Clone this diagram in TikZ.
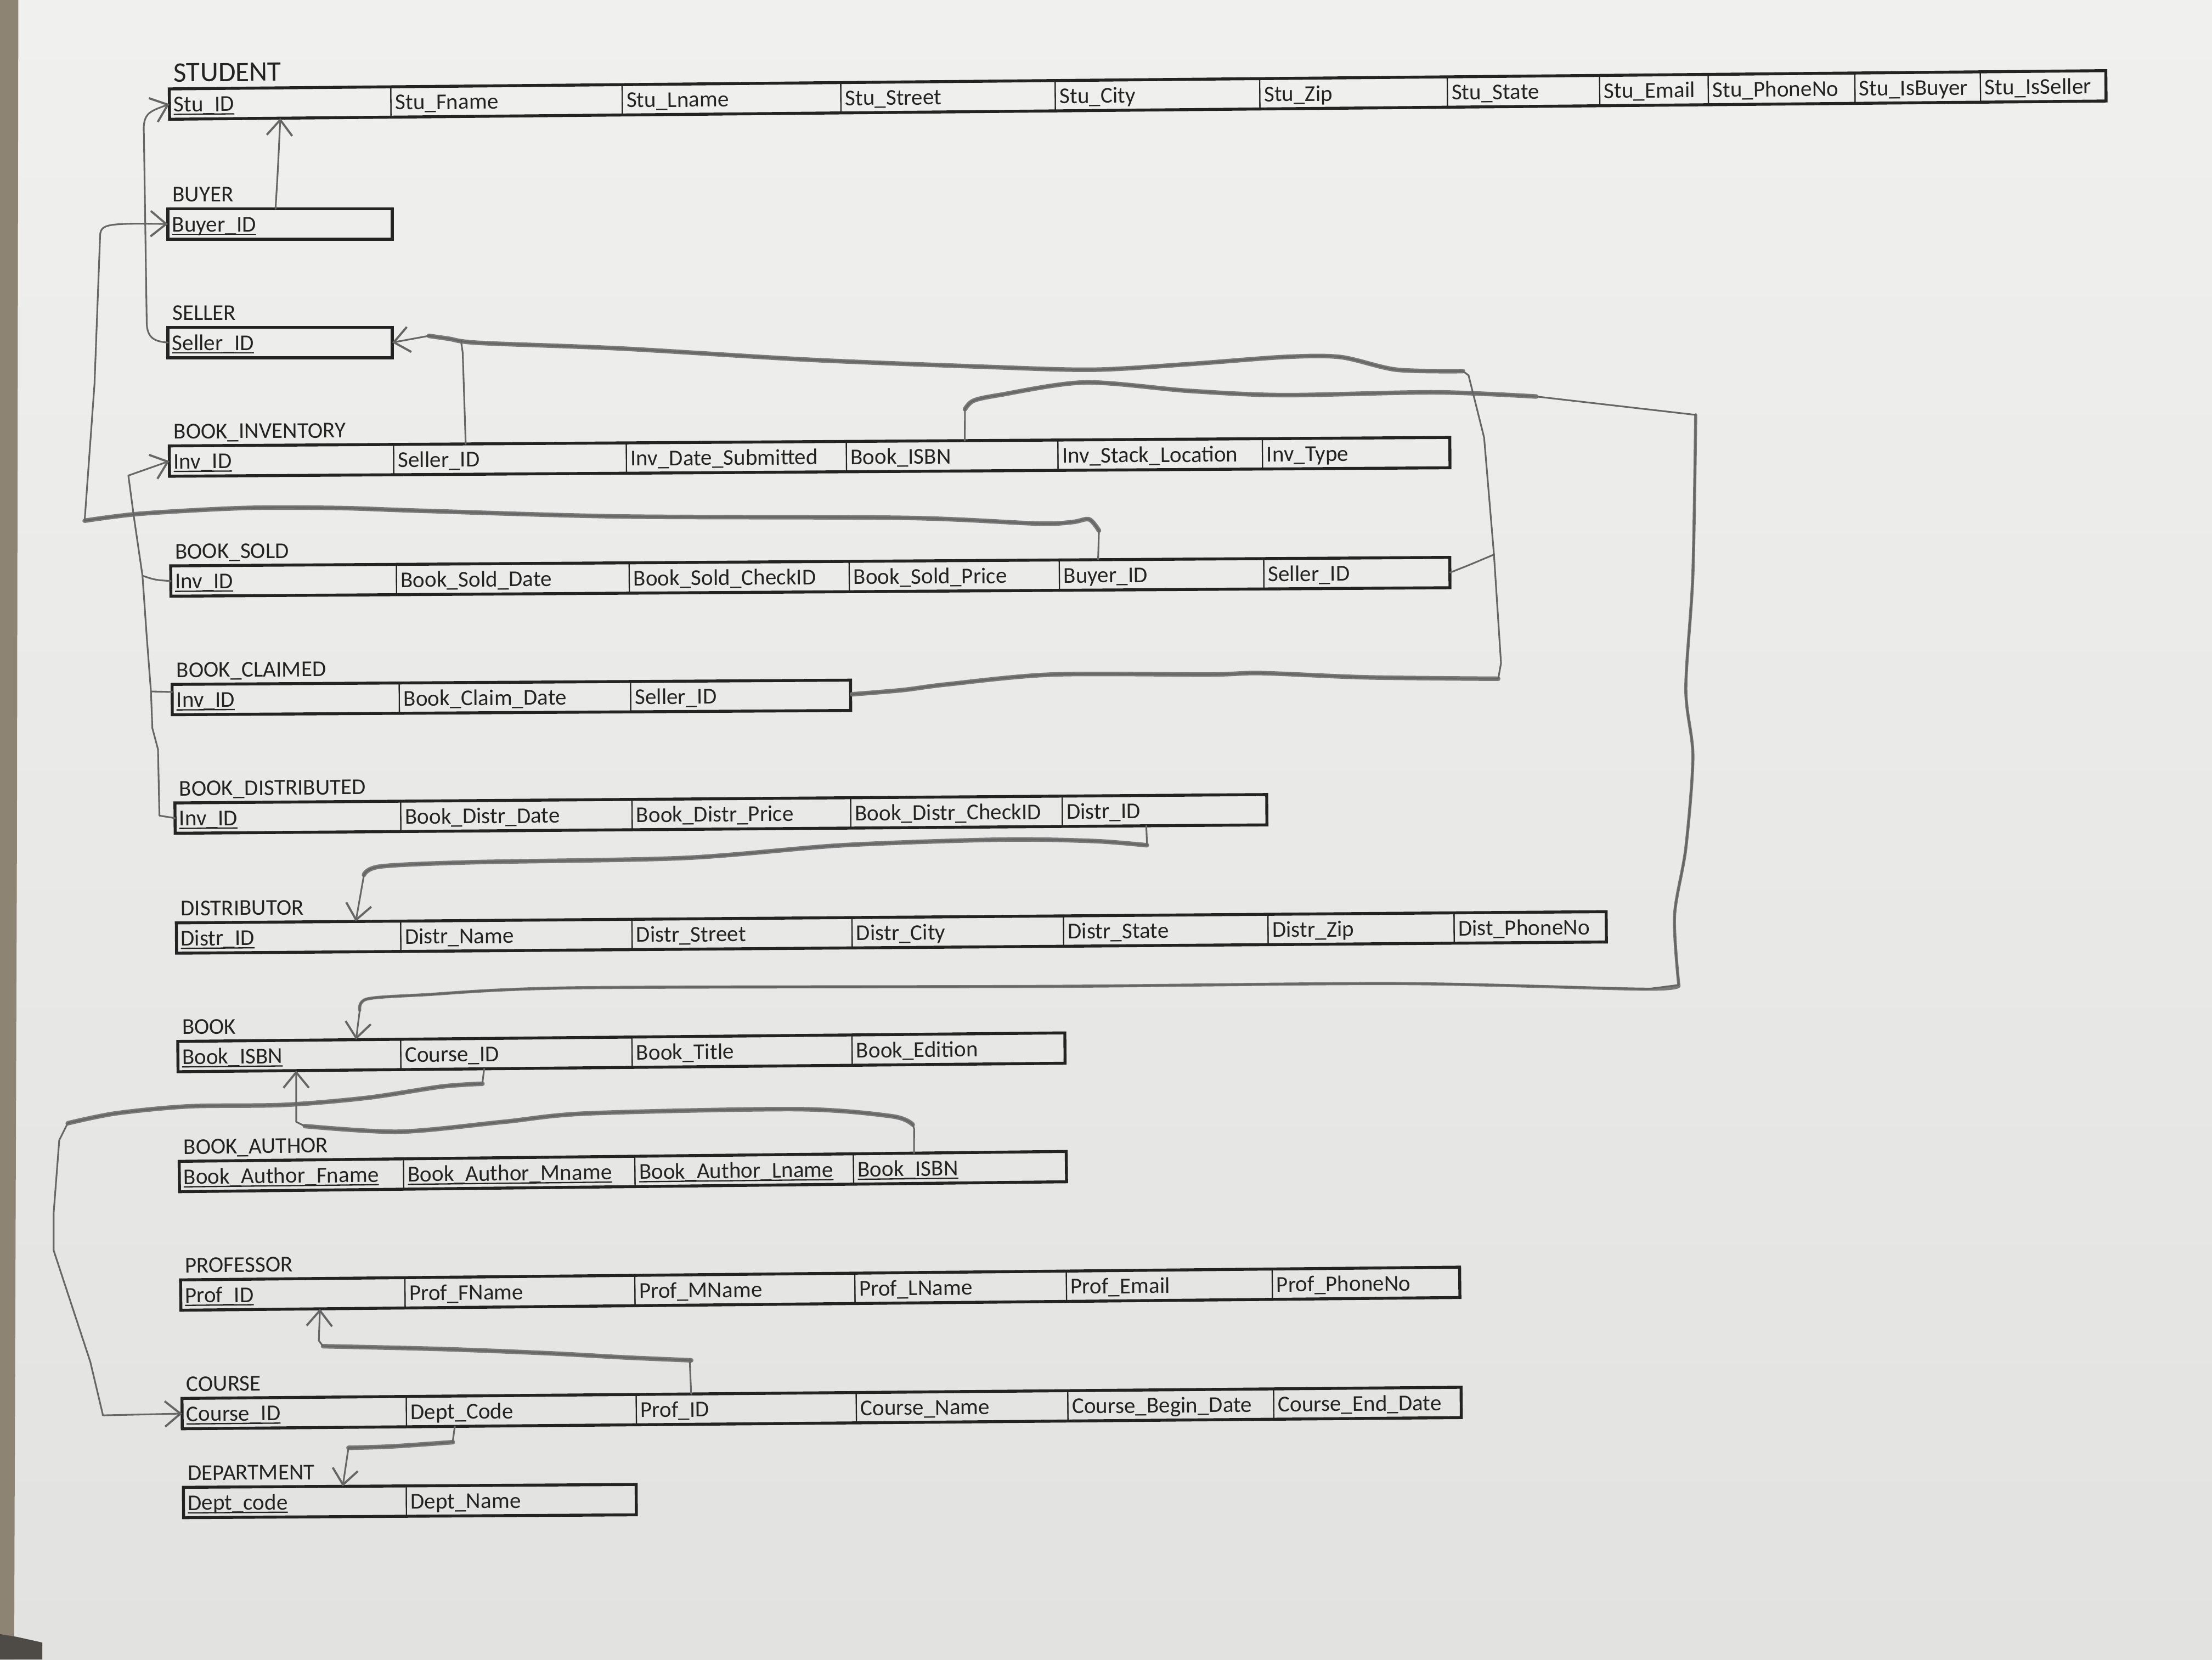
\documentclass[tikz,border=0pt]{standalone}
\usepackage{fontspec}
\setmainfont{Carlito}
\usetikzlibrary{calc,arrows.meta}
\definecolor{papertop}{HTML}{F0F0EE}
\definecolor{paperbot}{HTML}{E2E2E0}
\definecolor{ink}{HTML}{232323}
\definecolor{pencil}{HTML}{666666}
\definecolor{pencilhv}{HTML}{7A7A7A}
\definecolor{edge}{HTML}{8E8474}
\definecolor{edgedark}{HTML}{4E4A45}
\newcommand\pk[1]{\setbox0\hbox{#1}\rlap{\rule[-2.3pt]{\wd0}{0.9pt}}\box0}
\tikzset{
  tcell/.style={draw=ink, line width=0.8pt, anchor=north west, inner xsep=3pt, inner ysep=0pt, outer sep=0pt,
    minimum height=21.5pt, text height=11pt, text depth=0pt, align=left,
    font=\fontsize{16}{18}\selectfont, text=ink},
  tbord/.style={draw=ink, line width=2.1pt, line join=miter},
  tlabel/.style={anchor=base west, inner sep=0pt, font=\fontsize{16}{18}\selectfont, text=ink},
  fk/.style={draw=pencil, line width=1.2pt, line join=round, line cap=round},
  hvy/.style={draw=pencilhv, line width=3.2pt, line join=round, line cap=round},
  mid/.style={draw=pencilhv, line width=2.2pt, line join=round, line cap=round},
  fkarrow/.style={-{Straight Barb[length=11pt,width=18pt,line width=1.5pt]}}
}
% #1 prefix, #2 label, #3 x, #4 y, #5 angle, #6 number of cells, #7 list width/text
\newcommand\tbl[7]{%
  \begin{scope}[shift={(#3,#4)}, rotate=#5, transform shape]
    \coordinate (#1-0) at (0,0);
    \node[tlabel] (#1-L) at (3,-5) {#2};
    \foreach \w/\txt [count=\i, evaluate=\i as \j using int(\i-1)] in {#7}{%
      \node[tcell, text width=\w pt] (#1-\i) at (#1-\j.north east) {\txt};
    }
    \draw[tbord] (#1-1.north west) -- (#1-#6.north east) -- (#1-#6.south east) -- (#1-1.south west) -- cycle;
  \end{scope}}
\begin{document}
\begin{tikzpicture}[x=1pt,y=-1pt]
\useasboundingbox (0,0) rectangle (1568,1176);
\fill[top color=papertop, bottom color=paperbot] (0,0) rectangle (1568,1176);
\fill[edge] (0,0) -- (13,0) -- (12,600) -- (10,1176) -- (0,1176) -- cycle;
\fill[edgedark] (0,1158) -- (12,1160) -- (30,1164) -- (30,1176) -- (0,1176) -- cycle;

% ---------------- tables ----------------
\tbl{stu}{{\fontsize{20}{22}\selectfont STUDENT}}{120}{63}{0.54}{11}{151/{\pk{Stu\_ID}}, 158/{Stu\_Fname}, 149/{Stu\_Lname}, 146/{Stu\_Street}, 139/{Stu\_City}, 127/{Stu\_Zip}, 102/{Stu\_State}, 71/{Stu\_Email}, 98/{Stu\_PhoneNo}, 83/{Stu\_IsBuyer}, 83/{Stu\_IsSeller}}
\tbl{buy}{BUYER}{119}{148}{0}{1}{153/{\pk{Buyer\_ID}}}
\tbl{sel}{SELLER}{119}{232}{0}{1}{153/{\pk{Seller\_ID}}}
\tbl{bi}{BOOK\_INVENTORY}{120}{316}{0.38}{6}{153/{\pk{Inv\_ID}}, 159/{Seller\_ID}, 150/{Inv\_Date\_Submitted}, 144/{Book\_ISBN}, 139/{Inv\_Stack\_Location}, 127/{Inv\_Type}}
\tbl{bs}{BOOK\_SOLD}{121}{401}{0.38}{6}{154/{\pk{Inv\_ID}}, 159/{Book\_Sold\_Date}, 150/{Book\_Sold\_CheckID}, 143/{Book\_Sold\_Price}, 139/{Buyer\_ID}, 126/{Seller\_ID}}
\tbl{bc}{BOOK\_CLAIMED}{122}{485}{0.36}{3}{155/{\pk{Inv\_ID}}, 158/{Book\_Claim\_Date}, 150/{Seller\_ID}}
\tbl{bd}{BOOK\_DISTRIBUTED}{124}{569}{0.44}{5}{154/{\pk{Inv\_ID}}, 158/{Book\_Distr\_Date}, 149/{Book\_Distr\_Price}, 144/{Book\_Distr\_CheckID}, 139/{Distr\_ID}}
\tbl{ds}{DISTRIBUTOR}{125}{654}{0.45}{7}{153/{\pk{Distr\_ID}}, 158/{Distr\_Name}, 150/{Distr\_Street}, 144/{Distr\_City}, 139/{Distr\_State}, 126/{Distr\_Zip}, 102/{Dist\_PhoneNo}}
\tbl{bk}{BOOK}{126}{738}{0.55}{4}{152/{\pk{Book\_ISBN}}, 158/{Course\_ID}, 150/{Book\_Title}, 145/{Book\_Edition}}
\tbl{ba}{BOOK\_AUTHOR}{127}{823}{0.64}{4}{153/{\pk{Book\_Author\_Fname}}, 158/{\pk{Book\_Author\_Mname}}, 149/{\pk{Book\_Author\_Lname}}, 145/{\pk{Book\_ISBN}}}
\tbl{pf}{PROFESSOR}{128}{907}{0.57}{6}{153/{\pk{Prof\_ID}}, 157/{Prof\_FName}, 150/{Prof\_MName}, 144/{Prof\_LName}, 140/{Prof\_Email}, 127/{Prof\_PhoneNo}}
\tbl{cc}{COURSE}{129}{991}{0.5}{6}{153/{\pk{Course\_ID}}, 157/{Dept\_Code}, 150/{Prof\_ID}, 144/{Course\_Name}, 140/{Course\_Begin\_Date}, 127/{Course\_End\_Date}}
\tbl{dp}{DEPARTMENT}{130}{1054}{0.36}{2}{152/{\pk{Dept\_code}}, 157/{Dept\_Name}}

% ---------------- connector end points ----------------
\coordinate (c1s) at ($(buy-1.north west)!0.48!(buy-1.north east)$);
\coordinate (c1e) at ($(stu-1.south west)!0.5!(stu-1.south east)$);
\coordinate (c3s) at ($(bs-5.north west)!0.19!(bs-5.north east)$);
\coordinate (c4b) at ($(bi-2.north west)!0.31!(bi-2.north east)$);
\coordinate (sj1) at (1059,393);
\coordinate (sj4) at (327,243);
\coordinate (c5s) at ($(bi-4.north west)!0.56!(bi-4.north east)$);
\coordinate (c5e) at ($(bk-1.north west)!0.8!(bk-1.north east)$);
\coordinate (c6s) at ($(bd-5.south west)!0.41!(bd-5.south east)$);
\coordinate (c6e) at ($(ds-1.north west)!0.8!(ds-1.north east)$);
\coordinate (ij1) at (101,408);
\coordinate (ij2) at (107,490);
\coordinate (c7c) at ($(bc-1.north west)!0.25!(bc-1.south west)$);
\coordinate (c8s) at ($(bk-2.south west)!0.36!(bk-2.south east)$);
\coordinate (c9s) at ($(ba-4.north west)!0.285!(ba-4.north east)$);
\coordinate (c9e) at ($(bk-1.south west)!0.53!(bk-1.south east)$);
\coordinate (c10s) at ($(cc-3.north west)!0.25!(cc-3.north east)$);
\coordinate (c10e) at ($(pf-1.south west)!0.62!(pf-1.south east)$);
\coordinate (c11s) at ($(cc-2.south west)!0.21!(cc-2.south east)$);
\coordinate (c11e) at ($(dp-1.north west)!0.715!(dp-1.north east)$);

% ---------------- heavy pencil strokes ----------------
\draw[hvy] plot[smooth, tension=0.5] coordinates {(779,376) (772,368) (760,370) (735,371) (642,367) (441,366) (300,362) (240,360) (173,360) (100,364) (60,369)};
\draw[hvy] plot[smooth, tension=0.5] coordinates {(604,492) (640,489) (671,485) (746,478) (857,478) (894,477) (969,480) (1062,481)};
\draw[hvy] plot[smooth, tension=0.5] coordinates {(1037,263) (990,262) (950,253) (910,253) (843,258) (775,262) (700,260) (575,255) (441,247) (340,243) (318,240) (304,238)};
\draw[hvy] plot[smooth, tension=0.5] coordinates {(684,290) (690,284) (708,280) (769,271) (843,277) (910,280) (1017,278) (1089,281)};
\draw[mid] plot[smooth, tension=0.5] coordinates {(1202,294) (1200,407) (1195,488) (1200,536) (1195,601) (1187,649) (1190,698)};
\draw[mid] plot[smooth, tension=0.5] coordinates {(1190,698) (1167,701) (992,697) (744,699) (409,700) (300,705) (260,708) (255,716)};
\draw[hvy] plot[smooth, tension=0.5] coordinates {(813,599) (775,596) (709,595) (597,599) (485,608) (336,611) (270,614) (258,620)};
\draw[hvy] plot[smooth, tension=0.5] coordinates {(342,768) (313,770) (260,778) (201,783) (134,784) (82,789) (48,796)};
\draw[hvy] plot[smooth, tension=0.5] coordinates {(647,797) (632,791) (565,786) (417,789) (357,795) (283,802) (216,798)};
\draw[hvy] plot[smooth, tension=0.5] coordinates {(490,964) (444,962) (389,959) (313,956) (229,954)};
\draw[hvy] plot[smooth, tension=0.5] coordinates {(321,1022) (278,1025) (247,1026)};

% ---------------- connectors ----------------
% BUYER.Buyer_ID -> STUDENT.Stu_ID
\draw[fk,fkarrow] (c1s) .. controls (197,120) .. (c1e);
% SELLER.Seller_ID -> STUDENT.Stu_ID
\draw[fk,fkarrow] (sel-1.west) .. controls (110,242) and (104,240) .. (104,228) -- (102,95) .. controls (101,80) and (106,79) .. (stu-1.west);
% BOOK_SOLD.Buyer_ID -> BUYER.Buyer_ID
\draw[fk,fkarrow] (c3s) -- plot[smooth, tension=0.5] coordinates {(779,376) (772,368) (760,370) (735,371) (642,367) (441,366) (300,362) (240,360) (173,360) (100,364) (60,369)} -- (67,272) -- (71,166) .. controls (72,159) and (76,158) .. (buy-1.west);
% BOOK_CLAIMED.Seller_ID -> SELLER.Seller_ID (shared trunk)
\draw[fk,fkarrow] (bc-3.east) -- plot[smooth, tension=0.5] coordinates {(604,492) (640,489) (671,485) (746,478) (857,478) (894,477) (969,480) (1062,481)} -- (1064,470) -- (sj1) -- (1052,310) -- (1041,266) -- plot[smooth, tension=0.5] coordinates {(1037,263) (990,262) (950,253) (910,253) (843,258) (775,262) (700,260) (575,255) (441,247) (340,243) (318,240) (304,238)} -- (sel-1.east);
% BOOK_SOLD.Seller_ID joins
\draw[fk] (bs-6.east) .. controls (1040,401) .. (sj1);
% BOOK_INVENTORY.Seller_ID joins
\draw[fk] (c4b) -- (328,250) -- (sj4);
% BOOK_INVENTORY.Book_ISBN -> BOOK.Book_ISBN
\draw[fk,fkarrow] (c5s) -- (684,292) -- plot[smooth, tension=0.5] coordinates {(684,290) (690,284) (708,280) (769,271) (843,277) (910,280) (1017,278) (1089,281)} -- (1202,294) -- plot[smooth, tension=0.5] coordinates {(1202,294) (1200,407) (1195,488) (1200,536) (1195,601) (1187,649) (1190,698)} -- plot[smooth, tension=0.5] coordinates {(1167,701) (992,697) (744,699) (409,700) (300,705) (260,708) (255,716)} -- (c5e);
% BOOK_DISTRIBUTED.Distr_ID -> DISTRIBUTOR.Distr_ID
\draw[fk,fkarrow] (c6s) -- (813,597) -- plot[smooth, tension=0.5] coordinates {(813,599) (775,596) (709,595) (597,599) (485,608) (336,611) (270,614) (258,620)} -- (c6e);
% Inv_ID references -> BOOK_INVENTORY.Inv_ID
\draw[fk,fkarrow] (bd-1.west) -- (113,578) -- (112,531) -- (108,516) -- (ij2) -- (104,451) -- (ij1) -- (95,367) -- (91,337) -- (bi-1.west);
\draw[fk] (bs-1.west) .. controls (110,411) .. (ij1);
\draw[fk] (c7c) -- (ij2);
% BOOK.Course_ID -> COURSE.Course_ID
\draw[fk,fkarrow] (c8s) -- (342,767) -- plot[smooth, tension=0.5] coordinates {(342,768) (313,770) (260,778) (201,783) (134,784) (82,789) (48,796)} -- (42,808) -- (38,860) -- (38,886) -- (64,965) -- (73,1003) -- (cc-1.west);
% BOOK_AUTHOR.Book_ISBN -> BOOK.Book_ISBN
\draw[fk,fkarrow] (c9s) -- (648,800) -- plot[smooth, tension=0.5] coordinates {(647,797) (632,791) (565,786) (417,789) (357,795) (283,802) (216,798)} -- (210,795) -- (c9e);
% COURSE.Prof_ID -> PROFESSOR.Prof_ID
\draw[fk,fkarrow] (c10s) -- (489,966) -- plot[smooth, tension=0.5] coordinates {(490,964) (444,962) (389,959) (313,956) (229,954)} -- (226,950) -- (c10e);
% COURSE.Dept_Code -> DEPARTMENT.Dept_code
\draw[fk,fkarrow] (c11s) -- (321,1021) -- plot[smooth, tension=0.5] coordinates {(321,1022) (278,1025) (247,1026)} -- (c11e);
\end{tikzpicture}
\end{document}
